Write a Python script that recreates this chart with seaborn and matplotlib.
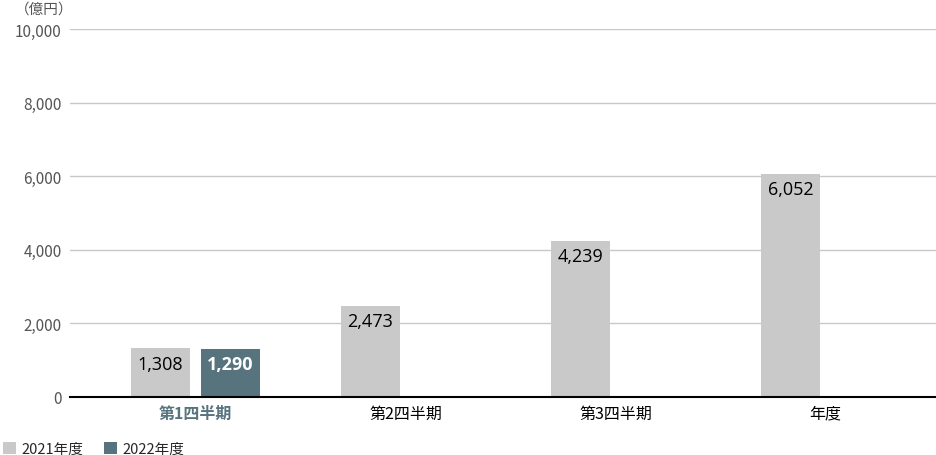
import matplotlib
matplotlib.use("Agg")
import matplotlib.pyplot as plt
import seaborn as sns
import pandas as pd
import numpy as np

categories = ["第1四半期", "第2四半期", "第3四半期", "年度"]
years = ["2021年度", "2022年度"]
values_2021 = [1308, 2473, 4239, 6052]
values_2022 = [1290, np.nan, np.nan, np.nan]
y_ticks = [0, 2000, 4000, 6000, 8000, 10000]
unit_label = "（億円）"

GRAY = "#c9c9c9"
DARK = "#56737e"

sns.set_theme(style="white")
plt.rcParams['font.family'] = ['Noto Sans CJK JP', 'DejaVu Sans']

df = pd.DataFrame({
    "cat": categories * 2,
    "year": [years[0]] * 4 + [years[1]] * 4,
    "value": values_2021 + values_2022,
})

fig = plt.figure(figsize=(9.36, 4.56), dpi=100)
ax = fig.add_axes([70/936, 1 - 397.5/456, (936-70)/936, (397.5-30)/456])

sns.barplot(data=df, x="cat", y="value", hue="year", order=categories,
            hue_order=years, palette=[GRAY, DARK], width=2/3, gap=0.157,
            saturation=1, linewidth=0, ax=ax, legend=True)

ax.set_ylim(0, 10000)
ax.set_xlim((70-195.5)/210, (936-195.5)/210)
ax.set_yticks(y_ticks)
ax.set_yticklabels([f"{v:,}" for v in y_ticks], color="#555555", fontsize=11)
ax.yaxis.grid(True, color="#c8c8c8", linewidth=1)
ax.set_axisbelow(True)
for s in ["top", "right", "left"]:
    ax.spines[s].set_visible(False)
ax.spines["bottom"].set_color("black")
ax.spines["bottom"].set_linewidth(1.5)
ax.tick_params(axis="y", length=0, pad=6)
ax.tick_params(axis="x", length=0, pad=6)
ax.set_xlabel("")
ax.set_ylabel("")

ticklabels = ax.get_xticklabels()
for i, t in enumerate(ticklabels):
    t.set_fontsize(11.5)
    if i == 0:
        t.set_color(DARK)
        t.set_fontweight("bold")
    else:
        t.set_color("black")

# value labels inside bars
for ci, cont in enumerate(ax.containers):
    for bar in cont:
        h = bar.get_height()
        if np.isnan(h) or h == 0:
            continue
        color = "white" if ci == 1 else "black"
        weight = "bold" if ci == 1 else "normal"
        ax.annotate(f"{int(round(h)):,}", (bar.get_x() + bar.get_width()/2, h),
                    xytext=(0, -4.5), textcoords="offset points",
                    ha="center", va="top", fontsize=13, color=color,
                    fontweight=weight, family=['Open Sans', 'DejaVu Sans'])

fig.text(15/936, 1 - 10/456, unit_label, fontsize=10.5, color="#555555",
         ha="left", va="center")

handles, labels = ax.get_legend_handles_labels()
ax.get_legend().remove()
fig.legend(handles, labels, loc="lower left", bbox_to_anchor=(-0.006, -0.022),
           ncol=2, frameon=False, fontsize=10.5, handlelength=0.85,
           handleheight=0.85, handletextpad=0.4, columnspacing=1.45,
           borderaxespad=0.2)

fig.savefig("out.png", dpi=100)
